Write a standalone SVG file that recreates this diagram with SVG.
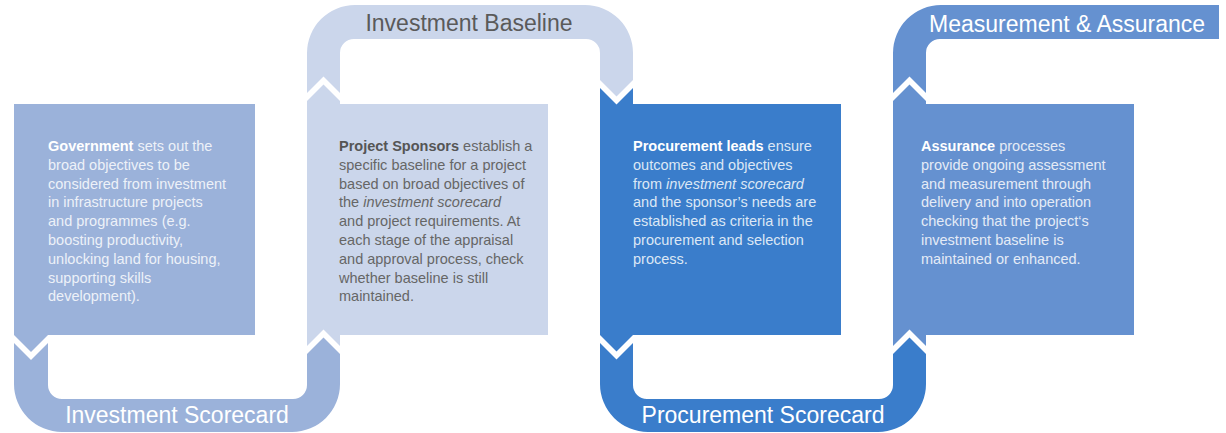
<svg xmlns="http://www.w3.org/2000/svg" width="1226" height="433" viewBox="0 0 1226 433">
<style>
.t{font-family:"Liberation Sans",Arial,Helvetica,sans-serif;font-size:14.5px}
.b{font-weight:bold}
.i{font-style:italic}
.lbl{font-family:"Liberation Sans",Arial,Helvetica,sans-serif;font-size:23px}
.c1{fill:#9BB2DA}.c2{fill:#CBD6EB}.c3{fill:#3A7DCB}.c4{fill:#6591D0}
.lt{fill:#EDF1F8}.wt{fill:#FFFFFF}.gy{fill:#666666}.dg{fill:#555555}
</style>
<rect width="1226" height="433" fill="#FFFFFF"/>
<g id="connectors">
  <g id="investment-scorecard">
    <path class="c1" d="M14,343 L31,360 L48,343 V385 A14,14 0 0 0 62,399 H293 A14,14 0 0 0 307,385 V354 L323.5,337.5 L340,354 V384 A48,48 0 0 1 292,432 H62 A48,48 0 0 1 14,384 Z"/>
    <text class="lbl" x="177" y="423" text-anchor="middle" fill="#FFFFFF">Investment Scorecard</text>
  </g>
  <g id="investment-baseline">
    <path class="c2" d="M307,93 L323.5,76.5 L340,93 V53 A14,14 0 0 1 354,39 H586 A14,14 0 0 1 600,53 V80 L616.5,96.5 L633,80 V53 A48,48 0 0 0 585,5 H355 A48,48 0 0 0 307,53 Z"/>
    <text class="lbl" x="469" y="31" text-anchor="middle" fill="#5A5A5A">Investment Baseline</text>
  </g>
  <g id="procurement-scorecard">
    <path class="c3" d="M600,343 L616.5,359.5 L633,343 V385 A14,14 0 0 0 647,399 H879 A14,14 0 0 0 893,385 V354 L909.5,337.5 L926,354 V384 A48,48 0 0 1 878,432 H648 A48,48 0 0 1 600,384 Z"/>
    <text class="lbl" x="763" y="423" text-anchor="middle" fill="#FFFFFF">Procurement Scorecard</text>
  </g>
  <g id="measurement-assurance">
    <path class="c4" d="M893,93 L909.5,76.5 L926,93 V53 A14,14 0 0 1 940,39 H1219 V5 H941 A48,48 0 0 0 893,53 Z"/>
    <text class="lbl" x="929" y="32" fill="#FFFFFF">Measurement &amp; Assurance</text>
  </g>
</g>
<g id="government">
  <path class="c1" d="M14,104 H255 V335 H48 L31,352 L14,335 Z"/>
  <text class="t lt">
    <tspan x="48" y="151"><tspan class="b wt">Government</tspan> sets out the</tspan>
    <tspan x="48" y="169.8">broad objectives to be</tspan>
    <tspan x="48" y="188.6">considered from investment</tspan>
    <tspan x="48" y="207.4">in infrastructure projects</tspan>
    <tspan x="48" y="226.2">and programmes (e.g.</tspan>
    <tspan x="48" y="245">boosting productivity,</tspan>
    <tspan x="48" y="263.8">unlocking land for housing,</tspan>
    <tspan x="48" y="282.6">supporting skills</tspan>
    <tspan x="48" y="301.4">development).</tspan>
  </text>
</g>
<g id="project-sponsors">
  <path class="c2" d="M307,101 L323.5,84.5 L340,101 V104 H548 V335 H340 V346 L323.5,329.5 L307,346 Z"/>
  <text class="t gy">
    <tspan x="339" y="151"><tspan class="b dg">Project Sponsors</tspan> establish a</tspan>
    <tspan x="339" y="169.8">specific baseline for a project</tspan>
    <tspan x="339" y="188.6">based on broad objectives of</tspan>
    <tspan x="339" y="207.4">the <tspan class="i">investment scorecard</tspan></tspan>
    <tspan x="339" y="226.2">and project requirements. At</tspan>
    <tspan x="339" y="245">each stage of the appraisal</tspan>
    <tspan x="339" y="263.8">and approval process, check</tspan>
    <tspan x="339" y="282.6">whether baseline is still</tspan>
    <tspan x="339" y="301.4">maintained.</tspan>
  </text>
</g>
<g id="procurement-leads">
  <path class="c3" d="M600,88 L616.5,104.5 L633,88 V104 H841 V335 H633 L616.5,351.5 L600,335 Z"/>
  <text class="t" fill="#DCE7F5">
    <tspan x="633" y="151"><tspan class="b wt">Procurement leads</tspan> ensure</tspan>
    <tspan x="633" y="169.8">outcomes and objectives</tspan>
    <tspan x="633" y="188.6">from <tspan class="i">investment scorecard</tspan></tspan>
    <tspan x="633" y="207.4">and the sponsor’s needs are</tspan>
    <tspan x="633" y="226.2">established as criteria in the</tspan>
    <tspan x="633" y="245">procurement and selection</tspan>
    <tspan x="633" y="263.8">process.</tspan>
  </text>
</g>
<g id="assurance">
  <path class="c4" d="M893,101 L909.5,84.5 L926,101 V104 H1134 V335 H926 V346 L909.5,329.5 L893,346 Z"/>
  <text class="t" fill="#E4EBF6">
    <tspan x="921" y="151"><tspan class="b wt">Assurance</tspan> processes</tspan>
    <tspan x="921" y="169.8">provide ongoing assessment</tspan>
    <tspan x="921" y="188.6">and measurement through</tspan>
    <tspan x="921" y="207.4">delivery and into operation</tspan>
    <tspan x="921" y="226.2">checking that the project‘s</tspan>
    <tspan x="921" y="245">investment baseline is</tspan>
    <tspan x="921" y="263.8">maintained or enhanced.</tspan>
  </text>
</g>
</svg>
